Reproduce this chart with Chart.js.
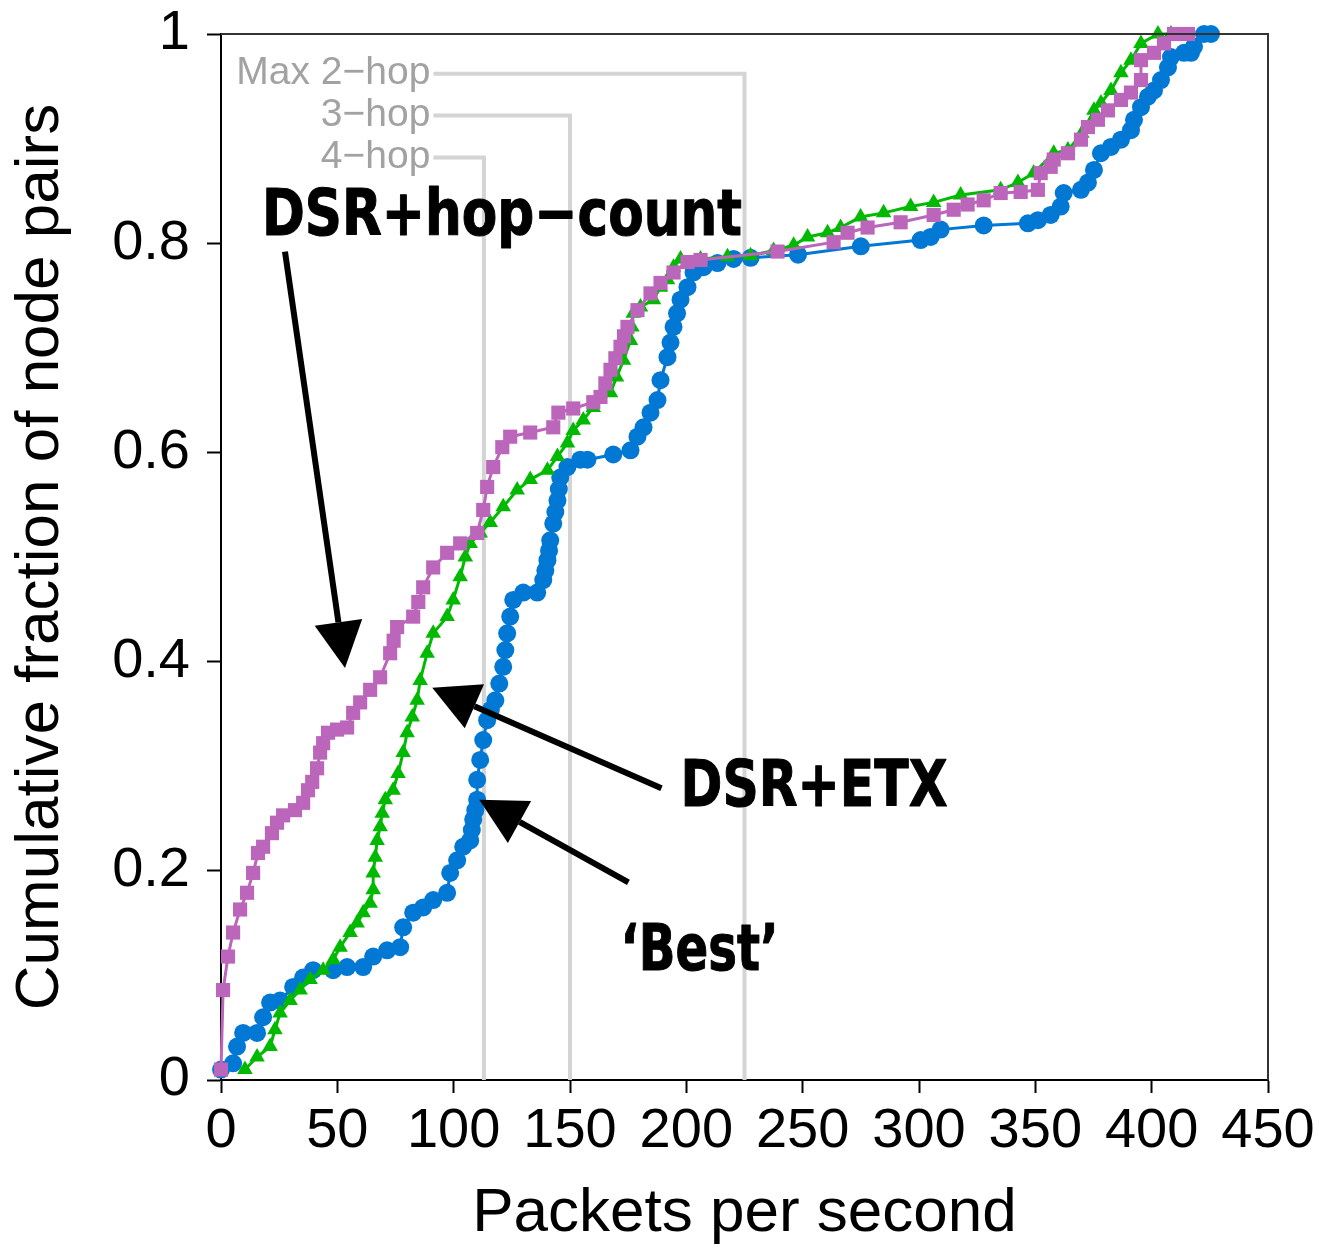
<!DOCTYPE html>
<html>
<head>
<meta charset="utf-8">
<script src="https://cdn.jsdelivr.net/npm/chart.js@4.4.0/dist/chart.umd.min.js"></script>
<style>
  html, body { margin: 0; padding: 0; background: #fff; }
  canvas { display: block; }
</style>
</head>
<body>
<canvas id="cdfChart" width="1319" height="1251"></canvas>
<script>
// tick labels
const xTicks = [0, 50, 100, 150, 200, 250, 300, 350, 400, 450];
const yTicks = [0, 0.2, 0.4, 0.6, 0.8, 1];

// DSR+hop-count (pink squares)
const hopCountX = [0.0, 0.9, 3.0, 5.2, 8.2, 11.2, 13.8, 15.9, 18.1, 21.9, 24.1, 26.7, 31.8, 35.3, 37.4, 39.2,
  41.3, 42.6, 43.9, 46.0, 49.9, 54.2, 56.8, 59.8, 64.1, 68.4, 72.7, 74.2, 75.7, 82.6, 84.8, 86.9, 91.2, 97.2,
  102.8, 110.1, 112.7, 114.4, 117.0, 120.9, 124.3, 132.9, 142.8, 145.0, 151.4, 160.0, 163.1, 165.2, 167.4,
  169.5, 171.7, 173.2, 174.7, 179.0, 184.6, 188.9, 194.5, 200.5, 206.1, 239.2, 263.3, 269.3, 277.9, 292.1, 306.3,
  314.9, 320.9, 327.8, 335.1, 343.7, 351.1, 352.3, 356.6, 357.9, 364.0, 369.6, 372.6, 376.9, 381.2,
  386.8, 391.1, 395.4, 395.4, 401.0, 405.3, 409.6, 415.6];
const hopCountY = [0.010, 0.086, 0.118, 0.141, 0.163, 0.179, 0.198, 0.217, 0.223, 0.236, 0.246, 0.253, 0.258, 0.265, 0.277, 0.285,
  0.298, 0.313, 0.322, 0.332, 0.335, 0.337, 0.351, 0.361, 0.373, 0.385, 0.408, 0.420, 0.433, 0.443, 0.457, 0.471, 0.490, 0.504,
  0.513, 0.523, 0.545, 0.567, 0.586, 0.605, 0.615, 0.619, 0.624, 0.638, 0.642, 0.648, 0.653, 0.666, 0.679,
  0.690, 0.701, 0.711, 0.720, 0.736, 0.752, 0.762, 0.772, 0.782, 0.784, 0.792, 0.801, 0.810, 0.815, 0.820, 0.827,
  0.832, 0.837, 0.841, 0.848, 0.849, 0.851, 0.867, 0.873, 0.880, 0.886, 0.899, 0.911, 0.918, 0.927,
  0.937, 0.944, 0.956, 0.975, 0.982, 0.991, 1.0, 1.0];

// DSR+ETX (green triangles)
const etxX = [10.3, 15.5, 21.1, 23.2, 25.4, 29.7, 34.0, 38.3, 43.9, 48.2, 51.2, 55.5, 58.5, 61.1, 64.1, 65.4,
  65.4, 66.3, 67.1, 68.4, 69.3, 70.6, 74.0, 76.1, 78.3, 80.0, 82.2, 84.3, 85.6, 88.6, 91.2, 97.2,
  99.8, 102.8, 105.0, 107.1, 111.4, 115.7, 121.3, 127.3, 132.9, 140.3, 144.6, 148.9, 151.4, 155.7,
  160.0, 167.4, 170.0, 173.0, 176.0, 176.6, 177.2, 180.3, 185.9, 188.9, 191.9, 194.5, 197.5, 206.1, 217.7, 227.6,
  237.5, 246.1, 252.1, 260.7, 266.3, 274.9, 284.8, 296.4, 306.3, 317.9, 335.1, 342.5, 349.3, 357.9,
  364.0, 370.0, 375.2, 378.2, 382.5, 386.8, 391.1, 395.4, 402.7, 408.3];
const etxY = [0.010, 0.022, 0.032, 0.048, 0.064, 0.076, 0.086, 0.096, 0.105, 0.115, 0.127, 0.141, 0.150, 0.160, 0.169, 0.182,
  0.198, 0.213, 0.229, 0.242, 0.255, 0.268, 0.277, 0.293, 0.313, 0.332, 0.347, 0.363, 0.382, 0.408, 0.427, 0.443,
  0.459, 0.481, 0.500, 0.513, 0.523, 0.533, 0.548, 0.564, 0.574, 0.583, 0.596, 0.609, 0.621, 0.631,
  0.643, 0.657, 0.672, 0.688, 0.707, 0.720, 0.733, 0.739, 0.746, 0.758, 0.765, 0.777, 0.785, 0.785, 0.787, 0.788,
  0.793, 0.798, 0.806, 0.810, 0.815, 0.825, 0.829, 0.835, 0.839, 0.846, 0.851, 0.858, 0.867, 0.886,
  0.889, 0.905, 0.927, 0.934, 0.946, 0.963, 0.975, 0.991, 1.0, 1.0];

// 'Best' (blue circles)
const bestX = [0.0, 5.2, 6.9, 9.5, 15.5, 18.1, 21.1, 25.4, 31.0, 35.3, 39.6, 48.2, 54.2, 61.1, 65.4, 71.4,
  77.0, 78.3, 82.6, 86.9, 91.2, 97.2, 98.5, 101.5, 104.1, 107.1, 107.8, 108.4, 109.3, 110.1, 110.1, 111.4, 112.7, 114.4,
  116.0, 117.9, 119.6, 121.3, 122.2, 123.0, 124.3, 125.6, 129.9, 135.9, 138.5, 139.4, 140.3, 141.0, 141.5, 142.8,
  143.7, 144.6, 145.2, 145.8, 148.9, 154.4,
  157.5, 168.6, 176.0, 179.0, 181.6, 184.6, 187.6, 188.9, 191.9, 193.2, 194.5, 196.0, 197.5, 200.5, 203.1, 207.4,
  213.4, 220.3, 227.6, 248.0, 275.0, 300.7, 305.0, 309.3, 327.8, 346.8, 351.1, 356.6, 360.9, 362.2,
  369.6, 372.6, 375.2, 378.2, 382.5, 386.8, 391.1, 392.4, 395.4, 398.4, 401.0, 404.0, 407.0, 408.3,
  413.9, 416.9, 418.2, 422.5, 425.5];
const bestY = [0.010, 0.016, 0.032, 0.045, 0.045, 0.060, 0.074, 0.076, 0.089, 0.098, 0.105, 0.105, 0.108, 0.108, 0.118, 0.124,
  0.127, 0.146, 0.160, 0.165, 0.172, 0.179, 0.198, 0.210, 0.223, 0.229, 0.239, 0.249, 0.258, 0.268, 0.287, 0.306, 0.325, 0.344,
  0.354, 0.363, 0.379, 0.395, 0.411, 0.427, 0.443, 0.459, 0.466, 0.466, 0.478, 0.487, 0.497, 0.506, 0.516, 0.532,
  0.543, 0.554, 0.565, 0.576, 0.586, 0.593,
  0.593, 0.598, 0.602, 0.615, 0.624, 0.638, 0.650, 0.669, 0.691, 0.705, 0.720, 0.733, 0.746, 0.758, 0.772, 0.777,
  0.781, 0.785, 0.786, 0.789, 0.797, 0.803, 0.806, 0.813, 0.817, 0.819, 0.822, 0.827, 0.835, 0.848,
  0.851, 0.858, 0.870, 0.886, 0.892, 0.899, 0.908, 0.918, 0.930, 0.940, 0.946, 0.956, 0.968, 0.978,
  0.982, 0.982, 0.988, 1.0, 1.0];

// max-hop reference lines
const hopLabels = ['Max 2\u2212hop', '3\u2212hop', '4\u2212hop'];
const hopLimitX = [225, 150, 113];
const hopLabelY = [0.962, 0.922, 0.882];
const hopLabelEndX = 90;

const PINK = '#bb66ba';
const GREEN = '#00b900';
const BLUE = '#0078d4';
const SANS = '"Liberation Sans", Arial, sans-serif';

// callouts: text anchor (left, baseline) and arrow tail/tip, all in data units
const callouts = [
  { text: 'DSR+hop\u2212count', x: 17.6, y: 0.808, width: 480,
    arrow: [27.5, 0.792, 53.3, 0.394] },
  { text: 'DSR+ETX', x: 197.5, y: 0.262, width: 267,
    arrow: [189.3, 0.279, 90.8, 0.375] },
  { text: '\u2018Best\u2019', x: 171.7, y: 0.105, width: 158,
    arrow: [175.1, 0.189, 111.0, 0.268] }
];

const toPoints = (xs, ys) => xs.map((x, i) => ({ x: x, y: ys[i] }));

function drawArrow(ctx, x1, y1, x2, y2) {
  const ang = Math.atan2(y2 - y1, x2 - x1);
  const headLen = 46, headHalf = 24;
  const bx = x2 - headLen * Math.cos(ang);
  const by = y2 - headLen * Math.sin(ang);
  ctx.lineWidth = 6;
  ctx.beginPath();
  ctx.moveTo(x1, y1);
  ctx.lineTo(bx, by);
  ctx.stroke();
  ctx.beginPath();
  ctx.moveTo(x2, y2);
  ctx.lineTo(bx + headHalf * Math.sin(ang), by - headHalf * Math.cos(ang));
  ctx.lineTo(bx - headHalf * Math.sin(ang), by + headHalf * Math.cos(ang));
  ctx.closePath();
  ctx.fill();
}

const overlay = {
  id: 'overlay',
  beforeDatasetsDraw(chart) {
    const { ctx, scales: { x, y } } = chart;
    ctx.save();
    ctx.strokeStyle = '#d4d4d4';
    ctx.lineWidth = 4;
    ctx.fillStyle = '#a2a2a2';
    ctx.font = '39px ' + SANS;
    ctx.textAlign = 'right';
    ctx.textBaseline = 'middle';
    const labelEnd = x.getPixelForValue(hopLabelEndX);
    hopLabels.forEach((label, i) => {
      const py = y.getPixelForValue(hopLabelY[i]);
      const px = x.getPixelForValue(hopLimitX[i]);
      ctx.beginPath();
      ctx.moveTo(labelEnd + 3, py);
      ctx.lineTo(px, py);
      ctx.lineTo(px, y.getPixelForValue(0));
      ctx.stroke();
      ctx.fillText(label, labelEnd, py);
    });
    ctx.restore();
  },
  afterDatasetsDraw(chart) {
    const { ctx, chartArea: a, scales: { x, y } } = chart;
    ctx.save();
    // top and right frame
    ctx.strokeStyle = '#333';
    ctx.lineWidth = 2;
    ctx.beginPath();
    ctx.moveTo(a.left, a.top);
    ctx.lineTo(a.right, a.top);
    ctx.lineTo(a.right, a.bottom);
    ctx.stroke();

    ctx.fillStyle = '#000';
    ctx.strokeStyle = '#000';
    callouts.forEach(c => {
      const [tx, ty, hx, hy] = c.arrow;
      drawArrow(ctx, x.getPixelForValue(tx), y.getPixelForValue(ty),
        x.getPixelForValue(hx), y.getPixelForValue(hy));
      ctx.save();
      ctx.font = 'bold 64px "DejaVu Sans Condensed", "DejaVu Sans", sans-serif';
      ctx.textAlign = 'left';
      ctx.textBaseline = 'alphabetic';
      ctx.lineJoin = 'round';
      ctx.lineWidth = 1;
      const w = ctx.measureText(c.text).width;
      ctx.translate(x.getPixelForValue(c.x), y.getPixelForValue(c.y));
      ctx.scale(c.width / w, 1);
      ctx.fillText(c.text, 0, 0);
      ctx.strokeText(c.text, 0, 0);
      ctx.restore();
    });
    ctx.restore();
  }
};

const series = (label, xs, ys, color, style, radius) => ({
  label: label,
  data: toPoints(xs, ys),
  borderColor: color,
  backgroundColor: color,
  borderWidth: 3,
  pointStyle: style,
  pointRadius: radius,
  pointBorderWidth: 0,
  pointBackgroundColor: color,
  tension: 0,
  clip: false
});

const axisGrid = len => ({
  drawOnChartArea: false,
  drawTicks: true,
  tickLength: len,
  tickWidth: 2,
  color: '#000'
});

new Chart(document.getElementById('cdfChart'), {
  type: 'line',
  data: {
    datasets: [
      series('DSR+hop-count', hopCountX, hopCountY, PINK, 'rect', 10),
      series('DSR+ETX', etxX, etxY, GREEN, 'triangle', 9),
      series('Best', bestX, bestY, BLUE, 'circle', 9)
    ]
  },
  options: {
    responsive: false,
    animation: false,
    layout: { padding: { top: 34, right: 51, left: 0, bottom: 0 } },
    plugins: { legend: { display: false }, tooltip: { enabled: false } },
    scales: {
      x: {
        type: 'linear',
        min: 0,
        max: 450,
        afterBuildTicks: s => { s.ticks = xTicks.map(v => ({ value: v })); },
        afterFit: s => { s.height = 171; s.paddingLeft = 0; s.paddingRight = 0; },
        grid: axisGrid(13),
        border: { display: true, color: '#000', width: 2 },
        ticks: { color: '#000', font: { family: SANS, size: 56 }, padding: 5, maxRotation: 0, autoSkip: false },
        title: { display: true, text: 'Packets per second', color: '#000',
          font: { family: SANS, size: 62 }, padding: { top: 0, bottom: 0 } }
      },
      y: {
        min: 0,
        max: 1,
        afterBuildTicks: s => { s.ticks = yTicks.map(v => ({ value: v })); },
        afterFit: s => { s.width = 221; s.paddingTop = 0; s.paddingBottom = 0; },
        grid: axisGrid(14),
        border: { display: true, color: '#000', width: 2 },
        ticks: { color: '#000', font: { family: SANS, size: 56 }, padding: 17,
          callback: v => String(+v.toFixed(1)) },
        title: { display: true, text: 'Cumulative fraction of node pairs', color: '#000',
          font: { family: SANS, size: 62 }, padding: { top: 4, bottom: 0 } }
      }
    }
  },
  plugins: [overlay]
});
</script>
</body>
</html>
